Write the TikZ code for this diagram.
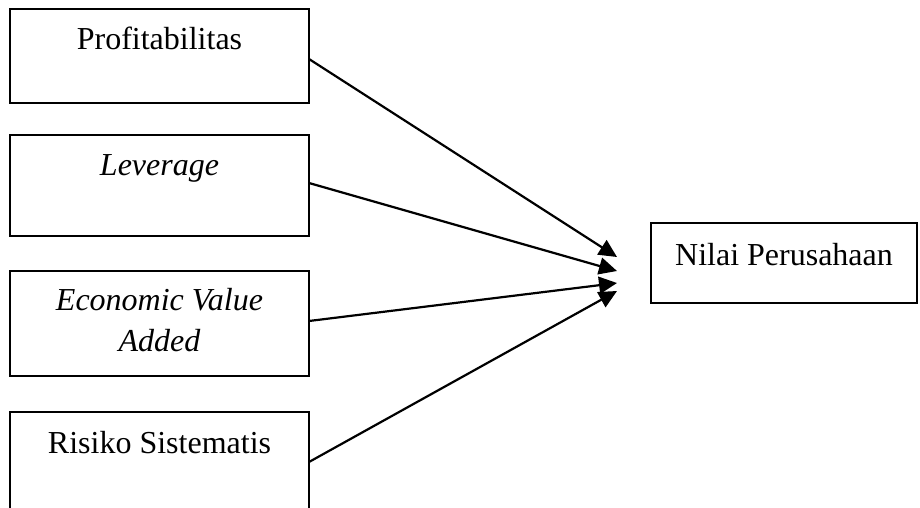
\documentclass[tikz,border=0pt]{standalone}
\usepackage{fontspec}
\setmainfont{Liberation Serif}
\usetikzlibrary{arrows.meta}
\begin{document}
\begin{tikzpicture}[x=0.5pt,y=-0.5pt,
  box/.style={draw,line width=1pt,rectangle,anchor=north west,inner sep=0pt,outer sep=0pt},
  lbl/.style={anchor=base,inner sep=0pt,align=center,font=\fontsize{16}{20.5}\selectfont},
  conn/.style={line width=1.1pt,-{Triangle[length=9pt,width=8.5pt]}}]
\useasboundingbox (0,0) rectangle (920,508);
\clip (0,0) rectangle (920,508);
\node[box,minimum width=149.5pt,minimum height=47pt] (b1) at (10,9) {};
\node[box,minimum width=149.5pt,minimum height=50.5pt] (b2) at (10,135) {};
\node[box,minimum width=149.5pt,minimum height=52.5pt] (b3) at (10,271) {};
\node[box,minimum width=149.5pt,minimum height=60pt] (b4) at (10,412) {};
\node[box,minimum width=133pt,minimum height=40pt] (n) at (651,223) {};
\node[lbl] (l1) at ([shift={(0,41)}]b1.north) {Profitabilitas};
\node[lbl] (l2) at ([shift={(0,40)}]b2.north) {\itshape Leverage};
\node[lbl,anchor=north] (l3) at ([shift={(0,17)}]b3.north) {\itshape Economic Value\\\itshape Added};
\node[lbl] (l4) at ([shift={(0,41)}]b4.north) {Risiko Sistematis};
\node[lbl] (l5) at ([shift={(0,42)}]n.north) {Nilai Perusahaan};
\coordinate (t1) at ([shift={(-34,34)}]n.north west);
\coordinate (t2) at ([shift={(-34,48)}]n.north west);
\coordinate (t3) at ([shift={(-34,60)}]n.north west);
\coordinate (t4) at ([shift={(-34,68)}]n.north west);
\draw[conn] ([shift={(0,50)}]b1.north east) -- (t1);
\draw[conn] ([shift={(0,48)}]b2.north east) -- (t2);
\draw[conn] ([shift={(0,50)}]b3.north east) -- (t3);
\draw[conn] ([shift={(0,50)}]b4.north east) -- (t4);
\end{tikzpicture}
\end{document}
